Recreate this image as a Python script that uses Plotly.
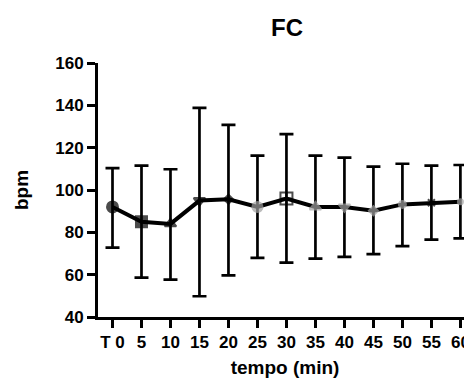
import plotly.graph_objects as go

categories = ["T 0", "5", "10", "15", "20", "25", "30", "35", "40", "45", "50", "55", "60"]
mean_bpm = [92, 85, 84, 95, 95.6, 92, 96, 92, 92, 90.2, 93.2, 94, 94.5]
upper_bpm = [110.3, 111.5, 109.8, 138.8, 130.8, 116.2, 126.4, 116.2, 115.3, 111, 112.4, 111.5, 111.8]
lower_bpm = [72.8, 58.6, 57.7, 49.8, 59.7, 67.9, 65.7, 67.6, 68.4, 69.7, 73.5, 76.6, 77.1]

symbols = ["circle", "square", "triangle-up", "triangle-down", "diamond", "circle",
           "square-cross-open", "triangle-up", "triangle-down", "diamond", "circle", "x-thin", "circle"]
colors = ["black", "black", "black", "black", "black", "#a0a0a0",
          "black", "#a0a0a0", "#a0a0a0", "#a0a0a0", "#a0a0a0", "black", "#a0a0a0"]
sizes = [11, 11, 10, 10, 7, 10, 12, 10, 10, 7, 7, 7, 5]

x_idx = list(range(len(categories)))
err_plus = [u - m for u, m in zip(upper_bpm, mean_bpm)]
err_minus = [m - l for m, l in zip(mean_bpm, lower_bpm)]

fig = go.Figure()
fig.add_trace(go.Scatter(
    x=x_idx, y=mean_bpm, mode="lines+markers",
    line=dict(color="black", width=4),
    marker=dict(symbol=symbols, color=colors, size=sizes,
                line=dict(color=colors, width=2)),
    error_y=dict(type="data", symmetric=False, array=err_plus, arrayminus=err_minus,
                 color="black", thickness=2.7, width=7),
    showlegend=False, cliponaxis=False,
))

# page body has an 8px margin: figure is offset by 8px right and down
W, H = 464, 372
font_family = "Liberation Sans, Arial, sans-serif"
fig.update_layout(
    width=W, height=H,
    margin=dict(l=90, r=0, t=55, b=63),
    plot_bgcolor="white", paper_bgcolor="white",
    title=dict(text="FC", x=279 / W, xanchor="center", y=1 - 20 / H, yanchor="middle",
               font=dict(family=font_family, size=24, color="black", weight="bold")),
    xaxis=dict(
        range=[-0.5, 12.4], tickmode="array", tickvals=x_idx, ticktext=categories,
        showgrid=False, zeroline=False, showline=True, linecolor="black", linewidth=3,
        ticks="outside", ticklen=8, tickwidth=3, tickcolor="black",
        tickfont=dict(family=font_family, size=17, color="black", weight="bold"),
        title=dict(text="tempo (min)", standoff=10,
                   font=dict(family=font_family, size=19, color="black", weight="bold")),
    ),
    yaxis=dict(
        range=[40, 160], tickvals=[40, 60, 80, 100, 120, 140, 160],
        showgrid=False, zeroline=False, showline=True, linecolor="black", linewidth=3,
        ticks="outside", ticklen=8, tickwidth=3, tickcolor="black",
        tickfont=dict(family=font_family, size=17, color="black", weight="bold"),
        title=dict(text="bpm", standoff=22,
                   font=dict(family=font_family, size=19, color="black", weight="bold")),
    ),
)

fig.write_html("out.html")
